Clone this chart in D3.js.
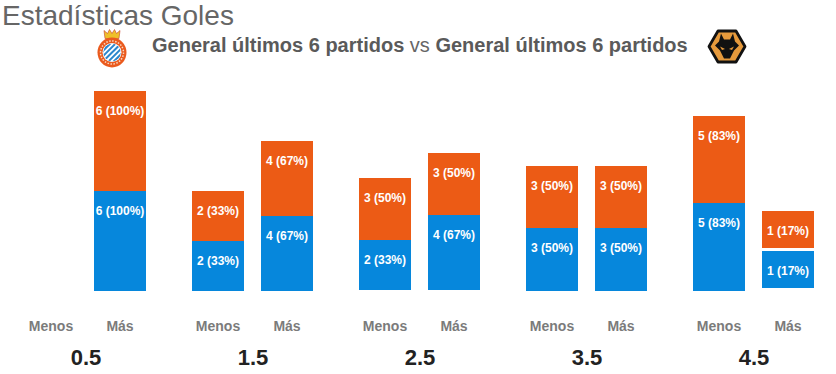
<!DOCTYPE html>
<html>
<head>
<meta charset="utf-8">
<script src="https://cdn.jsdelivr.net/npm/d3@7"></script>
<style>
  html, body { margin: 0; padding: 0; background: #fff; overflow: hidden; }
  text { font-family: "Liberation Sans", Arial, sans-serif; }
</style>
</head>
<body>
<script>
// datos
const thresholds = ["0.5", "1.5", "2.5", "3.5", "4.5"];
const sides = ["Menos", "Más"];
const homeMenos = [0, 2, 2, 3, 5];
const homeMas = [6, 4, 4, 3, 1];
const awayMenos = [0, 2, 3, 3, 5];
const awayMas = [6, 4, 3, 3, 1];
const homePctMenos = [0, 33, 33, 50, 83];
const homePctMas = [100, 67, 67, 50, 17];
const awayPctMenos = [0, 33, 50, 50, 83];
const awayPctMas = [100, 67, 50, 50, 17];

const WIDTH = 836, HEIGHT = 374;
const BLUE = "#0687dc", ORANGE = "#ec5b15";

let svg = d3.select("body").append("svg")
    .attr("width", WIDTH)
    .attr("height", HEIGHT);

// una fila por barra
let rows = [];
thresholds.forEach((t, i) => {
    rows.push({t, side: "Menos", home: homeMenos[i], away: awayMenos[i], homePct: homePctMenos[i], awayPct: awayPctMenos[i]});
    rows.push({t, side: "Más", home: homeMas[i], away: awayMas[i], homePct: homePctMas[i], awayPct: awayPctMas[i]});
});

let x0 = d3.scaleBand().domain(thresholds).range([25, 25 + 167 * thresholds.length]);
let x1 = d3.scaleBand().domain(sides).range([0, 121]).paddingInner(17 / 69);

// la altura no parte de cero: 1 gol = 37.5px, 6 goles = 100px
let h = d3.scaleLinear().domain([0, 6]).range([25, 100]);

// pequeños desajustes de la base en el original
const lastBar = d => d.t === "4.5" && d.side === "Más";
const baseY = d => d.t === "2.5" ? 290.1 : (lastBar(d) ? 288.4 : 290.9);
const gap = d => lastBar(d) ? 2.6 : 0;

// bordes en pixel entero
const homeTop = d => baseY(d) - h(d.home);
const awayBottom = d => homeTop(d) - gap(d);
const awayTop = d => awayBottom(d) - h(d.away);

let bars = svg.selectAll("g.bar")
    .data(rows.filter(d => d.home > 0))
    .enter().append("g")
        .attr("class", "bar")
        .attr("transform", d => "translate(" + (x0(d.t) + x1(d.side)) + ",0)");

bars.append("rect")
    .attr("y", d => Math.round(homeTop(d)))
    .attr("width", x1.bandwidth())
    .attr("height", d => Math.round(baseY(d)) - Math.round(homeTop(d)))
    .attr("fill", BLUE);

bars.append("rect")
    .attr("y", d => Math.round(awayTop(d)))
    .attr("width", x1.bandwidth())
    .attr("height", d => Math.round(awayBottom(d)) - Math.round(awayTop(d)))
    .attr("fill", ORANGE);

bars.append("text")
    .attr("x", x1.bandwidth() / 2)
    .attr("y", d => Math.round(homeTop(d)) + 24)
    .attr("text-anchor", "middle")
    .attr("font-size", 12)
    .attr("font-weight", "bold")
    .attr("fill", "#fff")
    .text(d => d.home + " (" + d.homePct + "%)");

bars.append("text")
    .attr("x", x1.bandwidth() / 2)
    .attr("y", d => Math.round(awayTop(d)) + 24)
    .attr("text-anchor", "middle")
    .attr("font-size", 12)
    .attr("font-weight", "bold")
    .attr("fill", "#fff")
    .text(d => d.away + " (" + d.awayPct + "%)");

// ejes: Menos / Más por grupo, y el umbral debajo
thresholds.forEach(t => {
    let sideAxis = svg.append("g")
        .attr("transform", "translate(" + x0(t) + ",320)")
        .call(d3.axisBottom(x1).tickSize(0).tickPadding(0));
    sideAxis.select(".domain").remove();
    sideAxis.selectAll("text")
        .attr("y", 0)
        .attr("dy", 11)
        .style("font-family", "'Liberation Sans', Arial, sans-serif")
        .style("font-size", "14px")
        .style("font-weight", "bold")
        .style("fill", "#7b7b7b");
});

let groupAxis = svg.append("g")
    .attr("transform", "translate(0,350)")
    .call(d3.axisBottom(d3.scalePoint().domain(thresholds).range([x0("0.5") + 60.5, x0("4.5") + 60.5])).tickSize(0).tickPadding(0));
groupAxis.select(".domain").remove();
groupAxis.selectAll("text")
    .attr("y", 0)
    .attr("dy", 15)
    .style("font-family", "'Liberation Sans', Arial, sans-serif")
    .style("font-size", "22px")
    .style("font-weight", "bold")
    .style("fill", "#222");

// titulos
svg.append("text")
    .attr("x", 2).attr("y", 25)
    .attr("font-size", 28)
    .attr("fill", "#666")
    .text("Estadísticas Goles");

let sub = svg.append("text")
    .attr("x", 152).attr("y", 52)
    .attr("font-size", 20)
    .attr("font-weight", "bold")
    .attr("fill", "#5a5a5a");
sub.append("tspan").text("General últimos 6 partidos");
sub.append("tspan").attr("font-weight", "normal").attr("fill", "#666").text(" vs ");
sub.append("tspan").text("General últimos 6 partidos");

// escudo Espanyol (simplificado)
let esp = svg.append("g").attr("transform", "translate(112,52.5)");
esp.append("path")
    .attr("d", "M-7,-14 L-8,-22 L-4.5,-19 L-2.5,-23 L0,-19 L2.5,-23 L4.5,-19 L8,-22 L7,-14 Z")
    .attr("fill", "#eec02a").attr("stroke", "#c8402a").attr("stroke-width", 0.6);
esp.append("ellipse").attr("rx", 14.5).attr("ry", 15).attr("fill", "#ea5a1e");
esp.append("circle").attr("r", 11.5)
    .attr("fill", "none").attr("stroke", "#f7d9c4").attr("stroke-width", 1.5)
    .attr("stroke-dasharray", "1.5 1.5");
esp.append("circle").attr("r", 9.5).attr("fill", "#fff");
let clip = svg.append("clipPath").attr("id", "espClip");
clip.append("circle").attr("r", 9);
let stripes = esp.append("g").attr("clip-path", "url(#espClip)");
stripes.append("circle").attr("r", 9).attr("fill", "#2b86cc");
[-8, -2.7, 2.7, 8].forEach(d => {
    stripes.append("line")
        .attr("x1", d - 12).attr("y1", 12)
        .attr("x2", d + 12).attr("y2", -12)
        .attr("stroke", "#fff").attr("stroke-width", 1.8);
});

// escudo Wolves (simplificado)
let wol = svg.append("g").attr("transform", "translate(727,46.5)");
wol.append("path")
    .attr("d", "M-18,0 L-9,-15.5 L9,-15.5 L18,0 L9,15.5 L-9,15.5 Z")
    .attr("fill", "#e69a3c").attr("stroke", "#111").attr("stroke-width", 2.8)
    .attr("stroke-linejoin", "round");
wol.append("path")
    .attr("d", "M-6,-13 L-3,-7 L3,-7 L6,-13 L8,-5 L12,-1 L7,4 L3,12 L-3,12 L-7,4 L-12,-1 L-8,-5 Z")
    .attr("fill", "#111");
wol.append("path").attr("d", "M-7,0 L-2,2.5 L-5,3.5 Z").attr("fill", "#e69a3c");
wol.append("path").attr("d", "M7,0 L2,2.5 L5,3.5 Z").attr("fill", "#e69a3c");
</script>
</body>
</html>
